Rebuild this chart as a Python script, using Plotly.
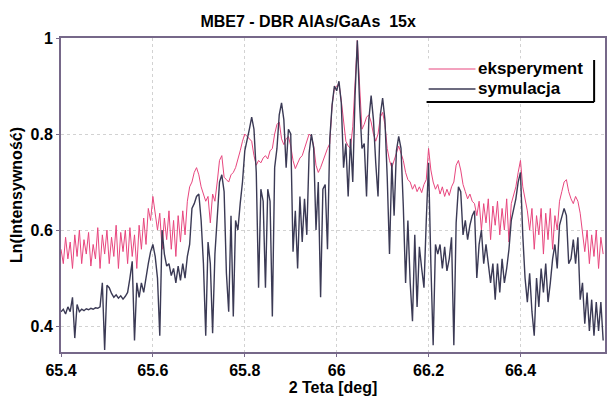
import plotly.graph_objects as go

# 2-theta sampling of both scans (deg)
X_START = 65.4
X_STEP = 0.005

# experimental scan, Ln(intensity) normalised
y_exp = [
    0.56, 0.53, 0.585, 0.54, 0.575, 0.52, 0.59, 0.545, 0.60, 0.53,
    0.58, 0.55, 0.595, 0.525, 0.57, 0.54, 0.605, 0.52, 0.59, 0.55,
    0.60, 0.53, 0.585, 0.545, 0.61, 0.52, 0.595, 0.555, 0.60, 0.53,
    0.605, 0.545, 0.59, 0.52, 0.61, 0.56, 0.625, 0.57, 0.645, 0.62,
    0.67, 0.63, 0.60, 0.635, 0.56, 0.625, 0.58, 0.64, 0.56, 0.62,
    0.545, 0.63, 0.575, 0.64, 0.59, 0.66, 0.69, 0.70, 0.72, 0.73,
    0.715, 0.69, 0.675, 0.66, 0.67, 0.615, 0.675, 0.66, 0.70, 0.745,
    0.755, 0.71, 0.705, 0.70, 0.715, 0.72, 0.73, 0.745, 0.765, 0.785,
    0.80, 0.795, 0.79, 0.785, 0.755, 0.735, 0.745, 0.74, 0.75, 0.755,
    0.748, 0.765, 0.77, 0.80, 0.82, 0.825, 0.79, 0.778, 0.79, 0.795,
    0.775, 0.745, 0.728, 0.74, 0.75, 0.755, 0.77, 0.782, 0.80, 0.795,
    0.775, 0.735, 0.72, 0.73, 0.745, 0.76, 0.77, 0.78, 0.86, 0.895,
    0.90, 0.905, 0.87, 0.83, 0.785, 0.775, 0.77, 0.815, 0.90, 0.995,
    0.90, 0.81, 0.82, 0.835, 0.84, 0.825, 0.80, 0.785, 0.80, 0.835,
    0.845, 0.82, 0.77, 0.745, 0.73, 0.745, 0.765, 0.775, 0.76, 0.745,
    0.72, 0.705, 0.70, 0.685, 0.695, 0.68, 0.69, 0.678, 0.695, 0.705,
    0.77, 0.725, 0.70, 0.685, 0.695, 0.675, 0.69, 0.67, 0.685, 0.672,
    0.69, 0.70, 0.735, 0.745, 0.725, 0.695, 0.68, 0.665, 0.675, 0.66,
    0.655, 0.63, 0.66, 0.60, 0.655, 0.615, 0.665, 0.58, 0.65, 0.61,
    0.66, 0.59, 0.645, 0.60, 0.665, 0.575, 0.655, 0.67, 0.69, 0.72,
    0.745, 0.69, 0.665, 0.64, 0.60, 0.645, 0.56, 0.63, 0.59, 0.645,
    0.55, 0.635, 0.58, 0.645, 0.56, 0.63, 0.60, 0.66, 0.68, 0.70,
    0.705, 0.68, 0.665, 0.655, 0.67, 0.66, 0.635, 0.60, 0.555, 0.60,
    0.53, 0.59, 0.545, 0.60, 0.52, 0.585, 0.55,
]

# simulated scan
y_sim = [
    0.43, 0.435, 0.425, 0.44, 0.43, 0.46, 0.375, 0.445, 0.43, 0.435,
    0.432, 0.436, 0.434, 0.437, 0.435, 0.438, 0.437, 0.44, 0.49, 0.35,
    0.485, 0.48, 0.468, 0.46, 0.465, 0.458, 0.463, 0.456, 0.462, 0.47,
    0.50, 0.535, 0.37, 0.49, 0.46, 0.49, 0.47, 0.505, 0.53, 0.555,
    0.57, 0.545, 0.50, 0.38, 0.60, 0.55, 0.525, 0.53, 0.505, 0.52,
    0.49, 0.525, 0.495, 0.53, 0.50, 0.545, 0.57, 0.645, 0.655, 0.67,
    0.675, 0.62, 0.53, 0.38, 0.575, 0.53, 0.385, 0.55, 0.63, 0.70,
    0.715, 0.68, 0.51, 0.43, 0.63, 0.42, 0.62, 0.60, 0.655, 0.70,
    0.765, 0.785, 0.81, 0.835, 0.81, 0.72, 0.48, 0.685, 0.66, 0.48,
    0.685, 0.66, 0.42, 0.73, 0.77, 0.84, 0.865, 0.83, 0.73, 0.81,
    0.80, 0.555, 0.64, 0.52, 0.67, 0.575, 0.665, 0.59, 0.76, 0.80,
    0.77, 0.60, 0.70, 0.46, 0.685, 0.695, 0.56, 0.79, 0.86, 0.90,
    0.89, 0.91, 0.865, 0.73, 0.78, 0.67, 0.79, 0.70, 0.88, 0.995,
    0.86, 0.77, 0.78, 0.67, 0.83, 0.88, 0.83, 0.74, 0.67, 0.84,
    0.875, 0.83, 0.71, 0.55, 0.74, 0.63, 0.765, 0.795, 0.77, 0.65,
    0.49, 0.62, 0.49, 0.41, 0.59, 0.44, 0.565, 0.52, 0.48, 0.62,
    0.74, 0.53, 0.36, 0.57, 0.55, 0.57, 0.52, 0.565, 0.515, 0.54,
    0.585, 0.36, 0.615, 0.69, 0.68, 0.59, 0.62, 0.58, 0.61, 0.63,
    0.64, 0.50, 0.57, 0.60, 0.53, 0.57, 0.535, 0.49, 0.53, 0.455,
    0.53, 0.47, 0.54, 0.49, 0.52, 0.56, 0.62, 0.645, 0.665, 0.70,
    0.72, 0.59, 0.50, 0.45, 0.51, 0.43, 0.38, 0.50, 0.44, 0.52,
    0.47, 0.53, 0.45, 0.49, 0.54, 0.57, 0.52, 0.61, 0.625, 0.645,
    0.63, 0.53, 0.54, 0.58, 0.53, 0.585, 0.455, 0.49, 0.405, 0.47,
    0.39, 0.455, 0.38, 0.45, 0.39, 0.45, 0.37,
]

x_ticks = [65.4, 65.6, 65.8, 66.0, 66.2, 66.4]
x_tick_text = ["65.4", "65.6", "65.8", "66", "66.2", "66.4"]
y_ticks = [0.4, 0.6, 0.8, 1.0]
y_tick_text = ["0.4", "0.6", "0.8", "1"]
names = ["eksperyment", "symulacja"]

x_exp = [round(X_START + i * X_STEP, 4) for i in range(len(y_exp))]
x_sim = [round(X_START + i * X_STEP, 4) for i in range(len(y_sim))]

PINK = "#e8467e"
DARK = "#3b3a55"
FONT = "Liberation Sans"

fig = go.Figure()
fig.add_trace(go.Scatter(x=x_exp, y=y_exp, mode="lines", name=names[0],
                         line=dict(color=PINK, width=1)))
fig.add_trace(go.Scatter(x=x_sim, y=y_sim, mode="lines", name=names[1],
                         line=dict(color=DARK, width=1.4)))

axis_common = dict(showline=True, mirror=True, linecolor="#766889", linewidth=2,
                   showgrid=True, gridcolor="#d2d2d2", griddash="dot", gridwidth=1,
                   zeroline=False, ticks="outside", ticklen=3, tickcolor="#766889")

fig.update_xaxes(range=[65.4, 66.584], tickvals=x_ticks, ticktext=x_tick_text,
                 tickfont=dict(family=FONT, size=16, color="black", weight="bold"),
                 title=dict(text="2 Teta [deg]", standoff=3,
                            font=dict(family=FONT, size=16, color="black", weight="bold")),
                 **axis_common)
fig.update_yaxes(range=[0.346, 1.0], tickvals=y_ticks, ticktext=y_tick_text,
                 tickfont=dict(family=FONT, size=16, color="black", weight="bold"),
                 title=dict(text="Ln(Intensywność)", standoff=4,
                            font=dict(family=FONT, size=16, color="black", weight="bold")),
                 **axis_common)

# legend drawn in paper coordinates
shapes = [
    dict(type="rect", xref="paper", yref="paper", x0=0.672, x1=0.98, y0=0.7994, y1=0.935,
         fillcolor="white", line=dict(width=0), layer="above"),
    dict(type="line", xref="paper", yref="paper", x0=0.6758, x1=0.7619, y0=0.9013, y1=0.9013,
         line=dict(color=PINK, width=1.2), layer="above"),
    dict(type="line", xref="paper", yref="paper", x0=0.6758, x1=0.7619, y0=0.8376, y1=0.8376,
         line=dict(color=DARK, width=1.4), layer="above"),
    dict(type="line", xref="paper", yref="paper", x0=0.98, x1=0.98, y0=0.7962, y1=0.93,
         line=dict(color="black", width=2), layer="above"),
    dict(type="line", xref="paper", yref="paper", x0=0.672, x1=0.98, y0=0.7962, y1=0.7962,
         line=dict(color="black", width=2), layer="above"),
]
annotations = [
    dict(xref="paper", yref="paper", x=0.7637, y=0.9013, xanchor="left", yanchor="middle",
         text=names[0], showarrow=False,
         font=dict(family=FONT, size=17, color="black", weight="bold")),
    dict(xref="paper", yref="paper", x=0.7637, y=0.8376, xanchor="left", yanchor="middle",
         text=names[1], showarrow=False,
         font=dict(family=FONT, size=17, color="black", weight="bold")),
]

fig.update_layout(
    width=609, height=397,
    margin=dict(l=61, r=2, t=38, b=45),
    paper_bgcolor="white", plot_bgcolor="white",
    showlegend=False,
    title=dict(text="MBE7 - DBR AlAs/GaAs\u00a0\u00a015x", x=0.506, xanchor="center",
               y=0.945, yanchor="middle",
               font=dict(family=FONT, size=16, color="black", weight="bold")),
    shapes=shapes, annotations=annotations,
)

fig.write_html("out.html")
